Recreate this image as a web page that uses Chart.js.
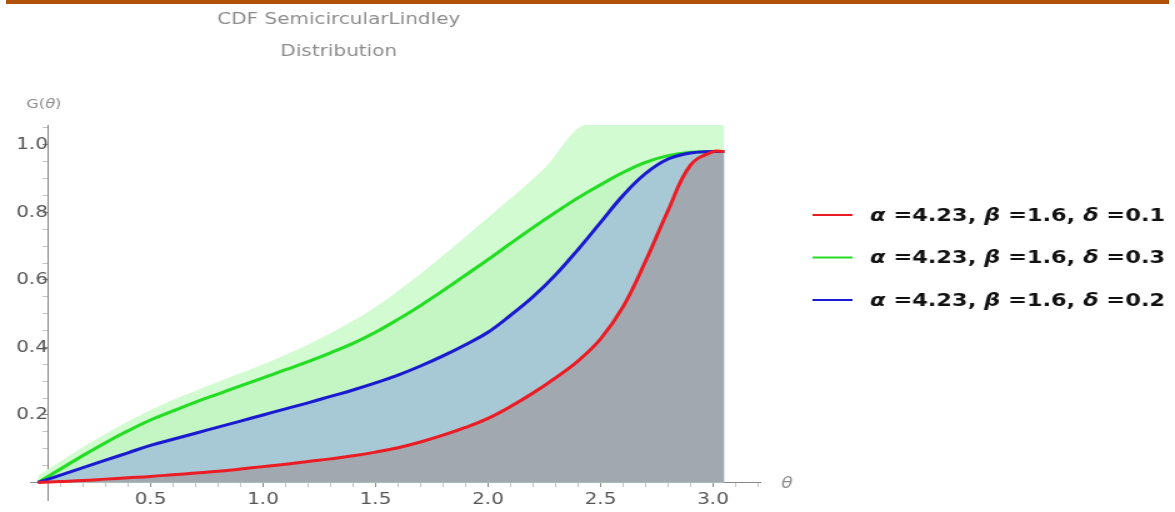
<!DOCTYPE html>
<html>
<head>
<meta charset="utf-8">
<script src="https://cdn.jsdelivr.net/npm/chart.js@4.4.1/dist/chart.umd.min.js"></script>
<style>
html, body { margin: 0; padding: 0; background: #fff; overflow: hidden; }
#topbar { position: absolute; left: 6px; top: 0; width: 1163px; height: 4px; background: #b0520c; }
/* the original picture is stretched sideways, so the chart is drawn narrow and widened */
#wrap { position: absolute; left: 0; top: 0; width: 940px; height: 512px; transform: scaleX(1.25); transform-origin: 0 0; }
</style>
</head>
<body>
<div id="wrap"><canvas id="chart"></canvas></div>
<div id="topbar"></div>
<script>
const titleLines = ['CDF SemicircularLindley', 'Distribution'];
const legendLabels = ['\u03b1 =4.23, \u03b2 =1.6, \u03b4 =0.1', '\u03b1 =4.23, \u03b2 =1.6, \u03b4 =0.3', '\u03b1 =4.23, \u03b2 =1.6, \u03b4 =0.2'];

const theta = [0, 0.1, 0.2, 0.3, 0.4, 0.5, 0.6, 0.7, 0.8, 0.9, 1.0, 1.1, 1.2, 1.3, 1.4, 1.5, 1.6, 1.7, 1.8, 1.9,
    2.0, 2.1, 2.2, 2.3, 2.4, 2.5, 2.6, 2.7, 2.8, 2.9, 3.0, 3.05];
const cdfDelta01 = [0, 0.003, 0.006, 0.01, 0.014, 0.018, 0.023, 0.028, 0.033, 0.04, 0.047, 0.054, 0.062, 0.07, 0.079, 0.09, 0.103, 0.12, 0.14, 0.163,
    0.19, 0.225, 0.265, 0.31, 0.36, 0.425, 0.52, 0.655, 0.805, 0.94, 0.98, 0.98];
const cdfDelta02 = [0, 0.022, 0.044, 0.066, 0.088, 0.11, 0.128, 0.146, 0.164, 0.182, 0.2, 0.218, 0.236, 0.255, 0.274, 0.295, 0.318, 0.345, 0.375, 0.408,
    0.445, 0.495, 0.55, 0.615, 0.69, 0.77, 0.85, 0.915, 0.958, 0.976, 0.98, 0.98];
const cdfDelta03 = [0, 0.04, 0.08, 0.118, 0.153, 0.185, 0.212, 0.238, 0.262, 0.286, 0.31, 0.334, 0.358, 0.384, 0.412, 0.445, 0.483, 0.524, 0.568, 0.614,
    0.66, 0.708, 0.755, 0.8, 0.843, 0.882, 0.918, 0.948, 0.968, 0.978, 0.98, 0.98];

// light green band drawn behind the curves
const bandTheta = [0, 0.25, 0.5, 0.75, 1.0, 1.25, 1.5, 1.75, 2.0, 2.25, 2.44, 3.05];
const bandTop = [0.02, 0.125, 0.215, 0.285, 0.35, 0.425, 0.52, 0.645, 0.785, 0.93, 1.06, 1.06];

const xTicks = [0.5, 1.0, 1.5, 2.0, 2.5, 3.0];
const yTicks = [0.2, 0.4, 0.6, 0.8, 1.0];

function pts(xs, ys) {
    return xs.map((x, i) => ({ x: x, y: ys[i] }));
}

// major ticks plus small unlabeled ones in between
function tickList(step, from, to) {
    const out = [];
    for (let k = Math.ceil(from / step); k * step <= to; k++) {
        const v = Math.round(k * step * 1000) / 1000;
        if (v > 0) out.push({ value: v });
    }
    return out;
}
const isMajor = (list, v) => list.some(t => Math.abs(t - v) < 1e-6);

Chart.defaults.font.family = '"DejaVu Sans", sans-serif';

// writes a string, greek letters in italic
function mixedText(c, text, x, y, size, weight) {
    for (const ch of text) {
        const greek = ch >= '\u0391' && ch <= '\u03c9';
        c.font = (greek ? 'italic ' : '') + weight + ' ' + size + 'px "DejaVu Sans"';
        c.fillText(ch, x, y);
        x += c.measureText(ch).width;
    }
}

/* ===== TEXT: title, axis names, legend ===== */
const annotate = {
    id: 'annotate',
    afterDraw(chart) {
        const c = chart.ctx;
        c.save();
        c.textBaseline = 'middle';

        c.fillStyle = '#8c8c8c';
        c.font = '16px "DejaVu Sans"';
        c.textAlign = 'center';
        titleLines.forEach((t, i) => c.fillText(t, 271, 20 + i * 32));

        // axis names
        c.textAlign = 'left';
        mixedText(c, 'G(\u03b8)', 21, 105, 13, 'normal');
        mixedText(c, '\u03b8', 625, 484, 15, 'normal');

        // legend
        const colors = [chart.data.datasets[0].borderColor, chart.data.datasets[2].borderColor, chart.data.datasets[1].borderColor];
        c.fillStyle = '#111';
        legendLabels.forEach((t, i) => {
            const y = 215 + i * 42.5;
            c.strokeStyle = colors[i];
            c.lineWidth = 2;
            c.beginPath();
            c.moveTo(650, y);
            c.lineTo(682, y);
            c.stroke();
            mixedText(c, t, 696, y + 1, 18, 'bold');
        });
        c.restore();
    }
};

const ctx = document.getElementById('chart').getContext('2d');

const chart = new Chart(ctx, {
    type: 'line',
    data: {
        datasets: [
            {
                label: legendLabels[0],
                data: pts(theta, cdfDelta01),
                borderColor: '#ec1c24',
                backgroundColor: '#a2a8b0',
                fill: 'origin',
                borderWidth: 3,
                pointRadius: 0,
                tension: 0.4
            },
            {
                label: legendLabels[2],
                data: pts(theta, cdfDelta02),
                borderColor: '#1a1ad0',
                backgroundColor: '#a7c9d6',
                fill: 'origin',
                borderWidth: 3,
                pointRadius: 0,
                tension: 0.4
            },
            {
                label: legendLabels[1],
                data: pts(theta, cdfDelta03),
                borderColor: '#22dd22',
                backgroundColor: '#c3f6c3',
                fill: 'origin',
                borderWidth: 3,
                pointRadius: 0,
                tension: 0.4
            },
            {
                label: 'band',
                data: pts(bandTheta, bandTop),
                borderWidth: 0,
                borderColor: 'rgba(0,0,0,0)',
                backgroundColor: '#d2fbd2',
                fill: 'origin',
                pointRadius: 0,
                cubicInterpolationMode: 'monotone'
            }
        ]
    },
    options: {
        responsive: true,
        maintainAspectRatio: false,
        animation: false,
        layout: { padding: { left: 24, right: 332, top: 125, bottom: 9 } },
        plugins: {
            legend: { display: false },
            title: { display: false },
            tooltip: { enabled: false },
            filler: { drawTime: 'beforeDatasetsDraw' }
        },
        scales: {
            x: {
                type: 'linear',
                min: -0.0356,
                max: 3.209,
                position: { y: 0 },
                grid: {
                    drawOnChartArea: false,
                    tickLength: 4,
                    tickColor: c => isMajor(xTicks, c.tick.value) ? '#888' : '#c4c4c4'
                },
                border: { color: '#888' },
                afterBuildTicks: axis => { axis.ticks = tickList(0.1, 0, 3.2); },
                ticks: {
                    color: '#555',
                    font: { size: 16 },
                    padding: 4,
                    maxRotation: 0,
                    autoSkip: false,
                    callback: v => isMajor(xTicks, v) ? v.toFixed(1) : ''
                }
            },
            y: {
                type: 'linear',
                min: -0.053,
                max: 1.0588,
                position: { x: 0.044 },
                grid: {
                    drawOnChartArea: false,
                    tickLength: 4,
                    tickColor: c => isMajor(yTicks, c.tick.value) ? '#888' : '#c4c4c4'
                },
                border: { color: '#888' },
                afterBuildTicks: axis => { axis.ticks = tickList(0.05, 0, 1.05); },
                ticks: {
                    color: '#555',
                    font: { size: 16 },
                    padding: 2,
                    autoSkip: false,
                    callback: v => isMajor(yTicks, v) ? v.toFixed(1) : ''
                }
            }
        }
    },
    plugins: [annotate]
});
</script>
</body>
</html>
